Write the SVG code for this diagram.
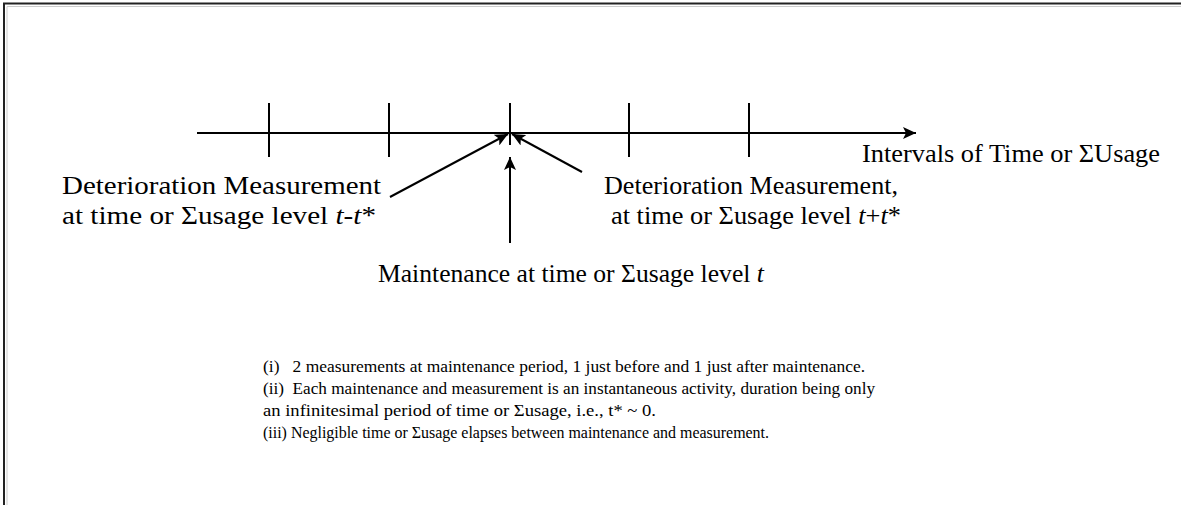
<svg xmlns="http://www.w3.org/2000/svg" width="1181" height="505" viewBox="0 0 1181 505">
<style>
.big{font-family:"Liberation Serif","Times New Roman",serif;font-size:26px;fill:#000}
.note{font-family:"Liberation Serif","Times New Roman",serif;font-size:16px;fill:#000}
.ln{stroke:#000;stroke-width:2;fill:none}
.it{font-style:italic}
</style>
<defs>
<marker id="ah" markerUnits="userSpaceOnUse" markerWidth="14" markerHeight="12" refX="13" refY="6" orient="auto">
<path d="M0,0 L13,6 L0,12 L3,6 Z" fill="#000"/>
</marker>
</defs>
<g id="frame">
<path d="M4,505 V3.5 H1181" fill="none" stroke="#222" stroke-width="2"/>
<path d="M7,505 V6.5 H1181" fill="none" stroke="#ccc" stroke-width="1"/>
</g>
<g id="axis">
<line class="ln" x1="197" y1="133" x2="916" y2="133" marker-end="url(#ah)"/>
<line class="ln" x1="269" y1="103" x2="269" y2="157"/>
<line class="ln" x1="389" y1="103" x2="389" y2="157"/>
<line class="ln" x1="510" y1="103" x2="510" y2="145"/>
<line class="ln" x1="629" y1="103" x2="629" y2="157"/>
<line class="ln" x1="749" y1="103" x2="749" y2="157"/>
<text class="big" x="862" y="162" textLength="298" lengthAdjust="spacingAndGlyphs">Intervals of Time or ΣUsage</text>
</g>
<g id="connectors">
<line class="ln" x1="390" y1="197" x2="508" y2="134" marker-end="url(#ah)"/>
<line class="ln" x1="582" y1="172" x2="512" y2="134" marker-end="url(#ah)"/>
<line class="ln" x1="510" y1="243" x2="510" y2="157" marker-end="url(#ah)"/>
</g>
<g id="before">
<text class="big" x="62" y="194" textLength="319" lengthAdjust="spacingAndGlyphs">Deterioration Measurement</text>
<text class="big" x="62" y="224" textLength="314" lengthAdjust="spacingAndGlyphs">at time or Σusage level <tspan class="it">t</tspan>-<tspan class="it">t</tspan>*</text>
</g>
<g id="after">
<text class="big" x="604" y="194" textLength="294" lengthAdjust="spacingAndGlyphs">Deterioration Measurement,</text>
<text class="big" x="611" y="224" textLength="290" lengthAdjust="spacingAndGlyphs">at time or Σusage level <tspan class="it">t</tspan>+<tspan class="it">t</tspan>*</text>
</g>
<g id="maintenance">
<text class="big" x="378" y="282" style="font-size:25.6px">Maintenance at time or Σusage level <tspan class="it">t</tspan></text>
</g>
<g id="notes">
<text class="note" x="263" y="372" textLength="602" lengthAdjust="spacingAndGlyphs" xml:space="preserve">(i)   2 measurements at maintenance period, 1 just before and 1 just after maintenance.</text>
<text class="note" x="263" y="394" textLength="612" lengthAdjust="spacingAndGlyphs" xml:space="preserve">(ii)  Each maintenance and measurement is an instantaneous activity, duration being only</text>
<text class="note" x="263" y="416" textLength="393" lengthAdjust="spacingAndGlyphs">an infinitesimal period of time or Σusage, i.e., t* ~ 0.</text>
<text class="note" x="263" y="438" textLength="506" lengthAdjust="spacingAndGlyphs">(iii) Negligible time or Σusage elapses between maintenance and measurement.</text>
</g>
</svg>
